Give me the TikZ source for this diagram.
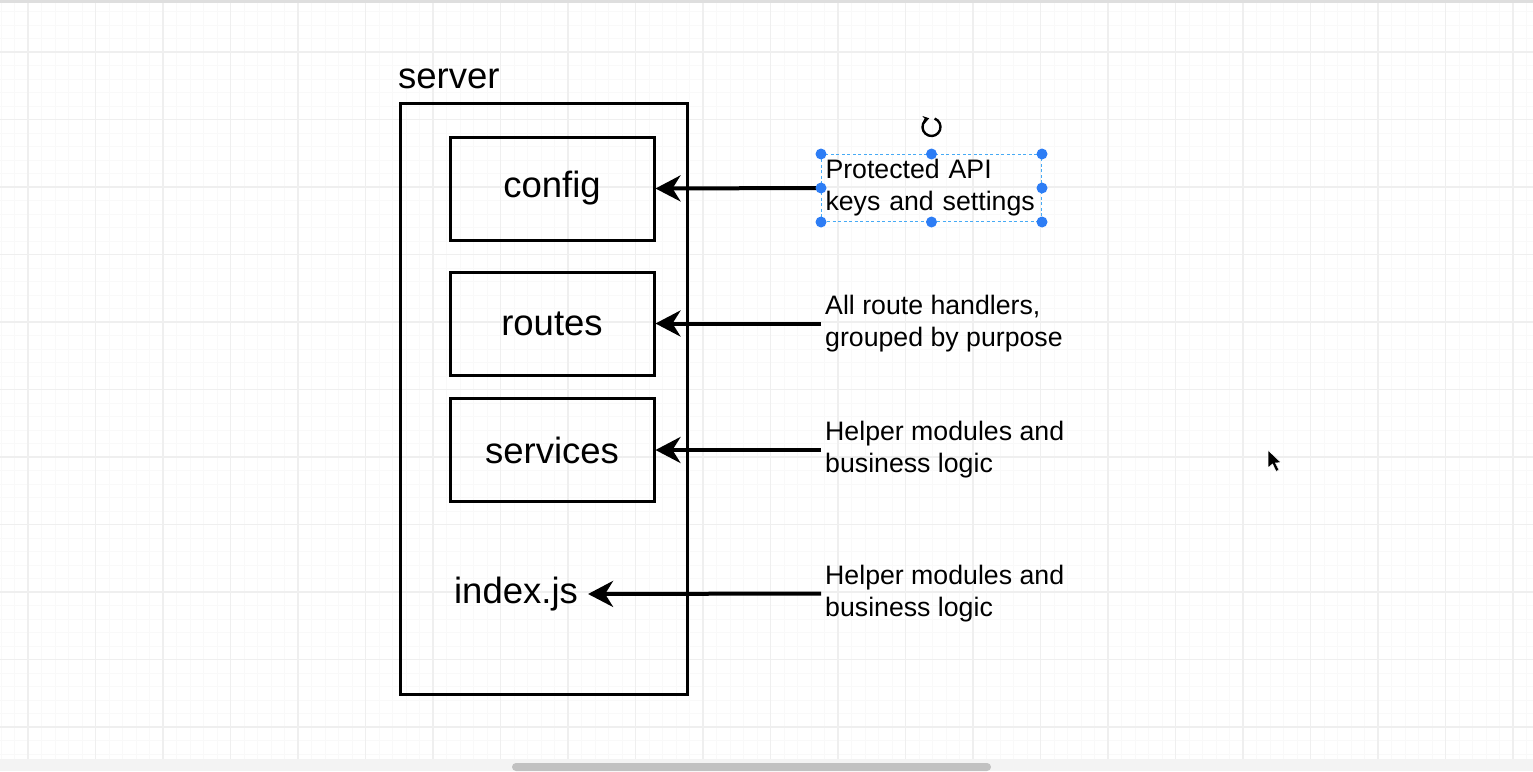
\documentclass[tikz,border=0pt]{standalone}
\usepackage{fontspec}
\setmainfont{Liberation Sans}
\usepackage{tikz}
\usetikzlibrary{arrows.meta, positioning, calc}
\definecolor{gridminor}{RGB}{249,249,249}
\definecolor{gridmajor}{RGB}{239,239,239}
\definecolor{topline}{RGB}{222,222,222}
\definecolor{scrolltrack}{RGB}{243,243,243}
\definecolor{scrollthumb}{RGB}{193,193,193}
\definecolor{selblue}{RGB}{70,170,245}
\definecolor{handleblue}{RGB}{45,125,245}

\begin{document}
\begin{tikzpicture}[
    x=1pt, y=-1pt,
    folder/.style={draw, line width=3pt, minimum width=204pt, minimum height=103pt,
                   font=\fontsize{36.5}{44}\selectfont},
    note/.style={anchor=west, align=left, inner sep=4pt,
                 font=\fontsize{26.7}{32}\selectfont},
    pointer/.style={draw, line width=4pt, -{Stealth[length=25pt, width=26pt, inset=8pt]}}
]
    \useasboundingbox (0,0) rectangle (1533,771);
    % canvas grid of the editor
    \foreach \i in {0,...,113}
        \draw[gridminor, line width=1pt] ({1+13.5*\i},3) -- ({1+13.5*\i},759);
    \foreach \j in {0,...,55}
        \draw[gridminor, line width=1pt] (0,{11.5+13.5*\j}) -- (1533,{11.5+13.5*\j});
    \foreach \i in {0,...,22}
        \draw[gridmajor, line width=1.2pt] ({28+67.5*\i},3) -- ({28+67.5*\i},759);
    \foreach \j in {0,...,10}
        \draw[gridmajor, line width=1.2pt] (0,{52+67.5*\j}) -- (1533,{52+67.5*\j});
    \fill[topline] (0,0) rectangle (1533,2.5);
    \fill[scrolltrack] (0,759) rectangle (1533,771);
    \fill[scrollthumb, rounded corners=4pt] (512,763) rectangle (991,771);

    % server folder
    \node[draw, line width=3pt, minimum width=287pt, minimum height=591pt] (server) at (543.5,398.5) {};
    \node[anchor=base west, inner sep=0pt, font=\fontsize{36.5}{44}\selectfont] (serverlabel) at (398,88) {server};
    \node[folder] (config) at (552,188.5) {config};
    \node[folder] (routes) at (552,323.5) {routes};
    \node[folder] (services) at (552,450) {services};
    \node[inner sep=10pt, font=\fontsize{36.5}{44}\selectfont] (index) at (516,594) {index.js};

    % notes on the right
    \node[note, text width=212pt, minimum height=67pt, draw=selblue, line width=1pt,
          dash pattern=on 3pt off 2.5pt] (keys) at (821,188) {Protected API\\keys and settings};
    \node[note] (handlers) at (821,323.5) {All route handlers,\\grouped by purpose};
    \node[note] (helpers) at (821,450) {Helper modules and\\business logic};
    \node[note] (entry) at (821,593.5) {Helper modules and\\business logic};

    \draw[pointer] (keys.west) -- (config.east);
    \draw[pointer] (handlers.west) -- (routes.east);
    \draw[pointer] (helpers.west) -- (services.east);
    \draw[pointer] (entry.west) -- (index.east);

    % selection handles
    \foreach \a in {north west, north, north east, east, south east, south, south west, west}
        \fill[handleblue] (keys.\a) circle (5.5pt);
    \coordinate (rot) at ($(keys.north)+(0,-27)$);
    \draw[line width=2.4pt, -{Stealth[length=6pt, width=8pt]}] ($(rot)+(-70:9)$)
        arc[start angle=-70, end angle=255, radius=9];

    % mouse pointer
    \fill[draw=white, line width=0.6pt] (1268,450) -- (1268,468) -- (1272.5,464) -- (1276,471.5)
        -- (1279,470) -- (1275.5,463) -- (1281,462.5) -- cycle;
\end{tikzpicture}
\end{document}
